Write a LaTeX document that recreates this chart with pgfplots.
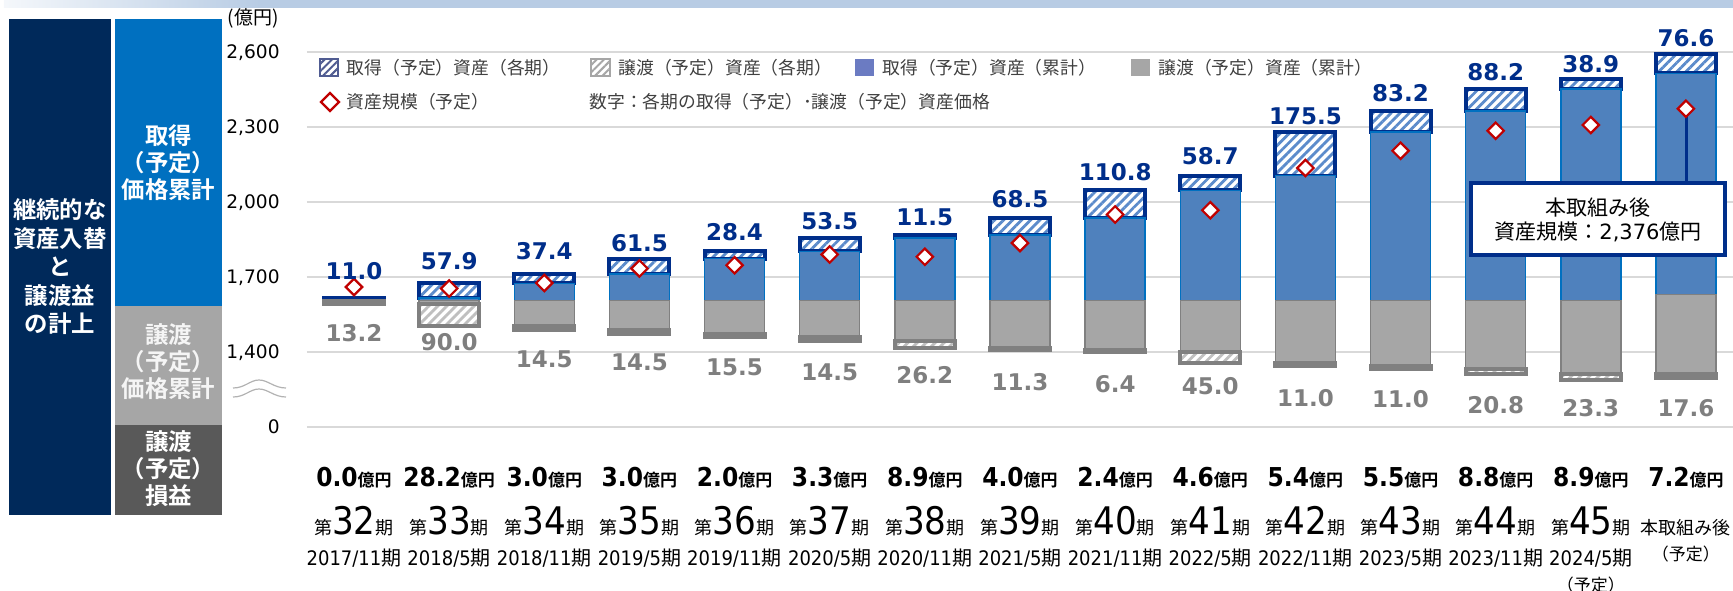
\documentclass[border=0pt]{standalone}
\usepackage{fontspec}
\setmainfont{DejaVu Sans}
\newfontfamily\dv{DejaVu Sans}
\newfontfamily\jp{Noto Sans CJK JP}[BoldFont={Noto Sans CJK JP Bold}]
\newfontfamily\cond{DejaVu Sans Condensed}[BoldFont={DejaVu Sans Condensed Bold}]
\usepackage{pgfplots}
\pgfplotsset{compat=1.18}
\usetikzlibrary{patterns.meta}

\definecolor{navy}{HTML}{002E8A}
\definecolor{barblue}{HTML}{4F81BD}
\definecolor{edgeblue}{HTML}{0070C0}
\definecolor{hatchblue}{HTML}{5B8BCB}
\definecolor{gfill}{HTML}{A6A6A6}
\definecolor{gedge}{HTML}{808080}
\definecolor{ghatch}{HTML}{BFBFBF}
\definecolor{glabel}{HTML}{7F7F7F}
\definecolor{gridc}{HTML}{D9D9D9}
\definecolor{dred}{HTML}{C00000}
\definecolor{panelnavy}{HTML}{00295A}
\definecolor{panelblue}{HTML}{0070C0}
\definecolor{panelgray}{HTML}{A6A6A6}
\definecolor{paneldark}{HTML}{595959}
\definecolor{legtext}{HTML}{404040}
\definecolor{legblue}{HTML}{6B7BC2}
\definecolor{band}{HTML}{B8CCE4}

\DeclareRobustCommand{\per}[1]{{\jp\fontsize{9}{13}\selectfont 第}{\cond\fontsize{19}{13}\selectfont #1}{\jp\fontsize{9}{13}\selectfont 期}}
\DeclareRobustCommand{\ym}[1]{{\cond\fontsize{10}{13}\selectfont #1}{\jp\fontsize{10}{13}\selectfont 期}}
\DeclareRobustCommand{\two}[2]{\begin{tabular}[t]{@{}c@{}}#1\\#2\end{tabular}}
\DeclareRobustCommand{\yt}{{\jp\fontsize{8.5}{13}\selectfont （予定）}}

\pgfplotsset{
  common/.style={
    at={(0,0)}, anchor=south west,
    x=47.57pt, y=0.125pt,
    xmin=-0.494, xmax=14.494, ymin=1100, ymax=2600,
    enlargelimits=false, clip=false,
  },
}

\begin{document}
\begin{tikzpicture}
% ---------- pixel-space decorations behind ----------
\begin{scope}[x=0.5pt,y=-0.5pt,xshift=-153.5pt,yshift=213.5pt]
  \shade[left color=band!15, right color=band] (4,0) rectangle (260,8);
  \fill[band] (259,0) rectangle (1733,8);
\end{scope}

% ---------- axis 1: bars ----------
\begin{axis}[common,
  axis line style={draw=none},
  major tick length=0pt,
  ytick={1100,1400,1700,2000,2300,2600},
  yticklabels={0,{1,400},{1,700},{2,000},{2,300},{2,600}},
  ymajorgrids, grid style={draw=gridc, line width=0.75pt},
  yticklabel style={anchor=base east, inner sep=0pt, xshift=-13.5pt, yshift=-3.4pt,
    font=\fontsize{9.3}{11}\selectfont},
  xtick={0,...,14},
  xticklabels={\per{32},\per{33},\per{34},\per{35},\per{36},\per{37},\per{38},\per{39},
    \per{40},\per{41},\per{42},\per{43},\per{44},\per{45},
    {\two{{\jp\fontsize{9}{13}\selectfont 本取組み後}}{\yt}}},
  xticklabel style={anchor=base, inner sep=0pt, yshift=-53.5pt, font=\fontsize{10}{13}\selectfont},
  extra x ticks={0,...,14},
  extra x tick labels={\ym{2017/11},\ym{2018/5},\ym{2018/11},\ym{2019/5},\ym{2019/11},
    \ym{2020/5},\ym{2020/11},\ym{2021/5},\ym{2021/11},\ym{2022/5},\ym{2022/11},
    \ym{2023/5},\ym{2023/11},{\two{\ym{2024/5}}{\yt}},{}},
  extra x tick style={grid=none, tick label style={yshift=-15.65pt}},
  ybar stacked, bar width=30pt,
]
% invisible offset (bottom of disposition part)
\addplot[draw=none, fill=none] coordinates {
 (0,1592.8) (1,1502.8) (2,1488.3) (3,1473.8) (4,1458.3) (5,1443.8) (6,1417.6) (7,1406.3)
 (8,1399.9) (9,1354.9) (10,1343.9) (11,1332.9) (12,1312.1) (13,1288.8) (14,1295.2)};
% disposition of the period (hatched gray)
\addplot[draw=gedge, line width=2pt, preaction={fill=white},
  pattern={Lines[angle=45,distance=3.2pt,line width=1.4pt]}, pattern color=ghatch] coordinates {
 (0,13.2) (1,90.0) (2,14.5) (3,14.5) (4,15.5) (5,14.5) (6,26.2) (7,11.3)
 (8,6.4) (9,45.0) (10,11.0) (11,11.0) (12,20.8) (13,23.3) (14,17.6)};
% cumulative disposition (solid gray)
\addplot[draw=gedge, fill=gfill, line width=0.75pt] coordinates {
 (0,0) (1,13.2) (2,103.2) (3,117.7) (4,132.2) (5,147.7) (6,162.2) (7,188.4)
 (8,199.7) (9,206.1) (10,251.1) (11,262.1) (12,273.1) (13,293.9) (14,317.2)};
% cumulative acquisition (solid blue)
\addplot[draw=edgeblue, fill=barblue, line width=0.75pt] coordinates {
 (0,0) (1,11.0) (2,68.9) (3,106.3) (4,167.8) (5,196.2) (6,249.7) (7,261.2)
 (8,329.7) (9,440.5) (10,499.2) (11,674.7) (12,757.9) (13,846.1) (14,885.0)};
% acquisition of the period (hatched blue)
\addplot[draw=navy, line width=2pt, preaction={fill=white},
  pattern={Lines[angle=45,distance=3.2pt,line width=1.4pt]}, pattern color=hatchblue] coordinates {
 (0,11.0) (1,57.9) (2,37.4) (3,61.5) (4,28.4) (5,53.5) (6,11.5) (7,68.5)
 (8,110.8) (9,58.7) (10,175.5) (11,83.2) (12,88.2) (13,38.9) (14,76.6)};
\end{axis}

% ---------- pixel-space decorations ----------
\begin{scope}[x=0.5pt,y=-0.5pt,xshift=-153.5pt,yshift=213.5pt]
  % left panel
  \fill[panelnavy] (9,19) rectangle (111,515);
  \fill[panelblue] (115,19) rectangle (222,306);
  \fill[panelgray] (115,306) rectangle (222,425);
  \fill[paneldark] (115,425) rectangle (222,515);
  \node[text=white, align=center, inner sep=0pt, font=\jp\bfseries\fontsize{11.7}{14.25}\selectfont]
    at (60,267) {継続的な\\資産入替\\と\\譲渡益\\の計上};
  \node[text=white, align=center, inner sep=0pt, font=\jp\bfseries\fontsize{11.7}{13.5}\selectfont]
    at (168.5,163) {取得\\（予定）\\価格累計};
  \node[text=white!92!gray, align=center, inner sep=0pt, font=\jp\bfseries\fontsize{11.7}{13.5}\selectfont]
    at (168.5,362) {譲渡\\（予定）\\価格累計};
  \node[text=white, align=center, inner sep=0pt, font=\jp\bfseries\fontsize{11.7}{13.5}\selectfont]
    at (168.5,468.5) {譲渡\\（予定）\\損益};
  % unit label
  \node[inner sep=0pt, font=\jp\fontsize{9.5}{11}\selectfont] at (253,18) {(億円)};
  % axis break mark
  \draw[gray!60, line width=0.6pt] (233,388) .. controls (245,388) and (250,380) .. (259,380)
       .. controls (268,380) and (274,388) .. (286,388);
  \draw[gray!60, line width=0.6pt] (233,397) .. controls (245,397) and (250,389) .. (259,389)
       .. controls (268,389) and (274,397) .. (286,397);
  % legend
  \draw[legblue!75!black, line width=0.6pt, preaction={fill=white},
    pattern={Lines[angle=45,distance=2.6pt,line width=1pt]}, pattern color=legblue!75!black]
    (320,59) rectangle (338,76);
  \node[anchor=west, inner sep=0pt, text=legtext, font=\jp\fontsize{8.9}{10}\selectfont]
    at (346.5,67.5) {取得（予定）資産（各期）};
  \draw[gfill, line width=0.6pt, preaction={fill=white},
    pattern={Lines[angle=45,distance=2.6pt,line width=1pt]}, pattern color=gfill]
    (591,59) rectangle (610,76);
  \node[anchor=west, inner sep=0pt, text=legtext, font=\jp\fontsize{8.9}{10}\selectfont]
    at (618,67.5) {譲渡（予定）資産（各期）};
  \fill[legblue] (855,59) rectangle (874,76);
  \node[anchor=west, inner sep=0pt, text=legtext, font=\jp\fontsize{8.9}{10}\selectfont]
    at (882,67.5) {取得（予定）資産（累計）};
  \fill[gfill] (1131,59) rectangle (1150,76);
  \node[anchor=west, inner sep=0pt, text=legtext, font=\jp\fontsize{8.9}{10}\selectfont]
    at (1158,67.5) {譲渡（予定）資産（累計）};
  \draw[dred, line width=1.1pt, fill=white] (330,93) -- (339,102) -- (330,111) -- (321,102) -- cycle;
  \node[anchor=west, inner sep=0pt, text=legtext, font=\jp\fontsize{8.9}{10}\selectfont]
    at (346.5,102) {資産規模（予定）};
  \node[anchor=west, inner sep=0pt, text=legtext, font=\jp\fontsize{8.9}{10}\selectfont]
    at (589,102) {数字：各期の取得（予定）･譲渡（予定）資産価格};
  % callout
  \draw[navy, line width=1.5pt] (1686,112) -- (1686,183);
  \draw[navy, line width=1.6pt, fill=white] (1471,183) rectangle (1725,255);
  \node[inner sep=0pt, font=\jp\fontsize{10.5}{12}\selectfont] at (1598,208) {本取組み後};
  \node[inner sep=0pt, font=\jp\fontsize{10.5}{12}\selectfont] at (1598,232) {資産規模：{\dv 2,376}億円};
\end{scope}

% ---------- axis 2: markers and labels ----------
\begin{axis}[common, hide axis]
\addplot[only marks, mark=square*, mark size=2.9pt,
  mark options={rotate=45, fill=white, draw=dred, line width=1.1pt}] coordinates {
 (0,1660) (1,1654) (2,1676) (3,1734) (4,1747) (5,1790) (6,1781) (7,1836)
 (8,1950) (9,1967) (10,2136) (11,2205) (12,2285) (13,2308) (14,2373)};
% acquisition labels
\addplot[only marks, mark=none, point meta=explicit symbolic, nodes near coords,
  every node near coord/.append style={anchor=center, inner sep=0pt, text=navy,
    font=\bfseries\fontsize{11.5}{13}\selectfont}] coordinates {
 (0,1723) [11.0] (1,1763) [57.9] (2,1803) [37.4] (3,1837) [61.5] (4,1878) [28.4]
 (5,1922) [53.5] (6,1937) [11.5] (7,2013) [68.5] (8,2120) [110.8] (9,2182) [58.7]
 (10,2342) [175.5] (11,2437) [83.2] (12,2521) [88.2] (13,2553) [38.9] (14,2657) [76.6]};
% disposition labels
\addplot[only marks, mark=none, point meta=explicit symbolic, nodes near coords,
  every node near coord/.append style={anchor=center, inner sep=0pt, text=glabel,
    font=\bfseries\fontsize{11.5}{13}\selectfont}] coordinates {
 (0,1474) [13.2] (1,1441) [90.0] (2,1370) [14.5] (3,1360) [14.5] (4,1338) [15.5]
 (5,1319) [14.5] (6,1306) [26.2] (7,1280) [11.3] (8,1272) [6.4] (9,1262) [45.0]
 (10,1217) [11.0] (11,1210) [11.0] (12,1189) [20.8] (13,1175) [23.3] (14,1175) [17.6]};
% gain on sale row
\addplot[only marks, mark=none, point meta=explicit symbolic,
  nodes near coords={{\cond\bfseries\fontsize{13}{14}\selectfont\pgfplotspointmeta}{\jp\bfseries\fontsize{8.5}{9}\selectfont 億円}},
  every node near coord/.append style={anchor=base, inner sep=0pt, text=black}] coordinates {
 (0,864) [0.0] (1,864) [28.2] (2,864) [3.0] (3,864) [3.0] (4,864) [2.0]
 (5,864) [3.3] (6,864) [8.9] (7,864) [4.0] (8,864) [2.4] (9,864) [4.6]
 (10,864) [5.4] (11,864) [5.5] (12,864) [8.8] (13,864) [8.9] (14,864) [7.2]};
\end{axis}

\pgfresetboundingbox
\begin{scope}[x=0.5pt,y=-0.5pt,xshift=-153.5pt,yshift=213.5pt]
  \path[use as bounding box] (0,0) rectangle (1733,590);
\end{scope}
\end{tikzpicture}
\end{document}
